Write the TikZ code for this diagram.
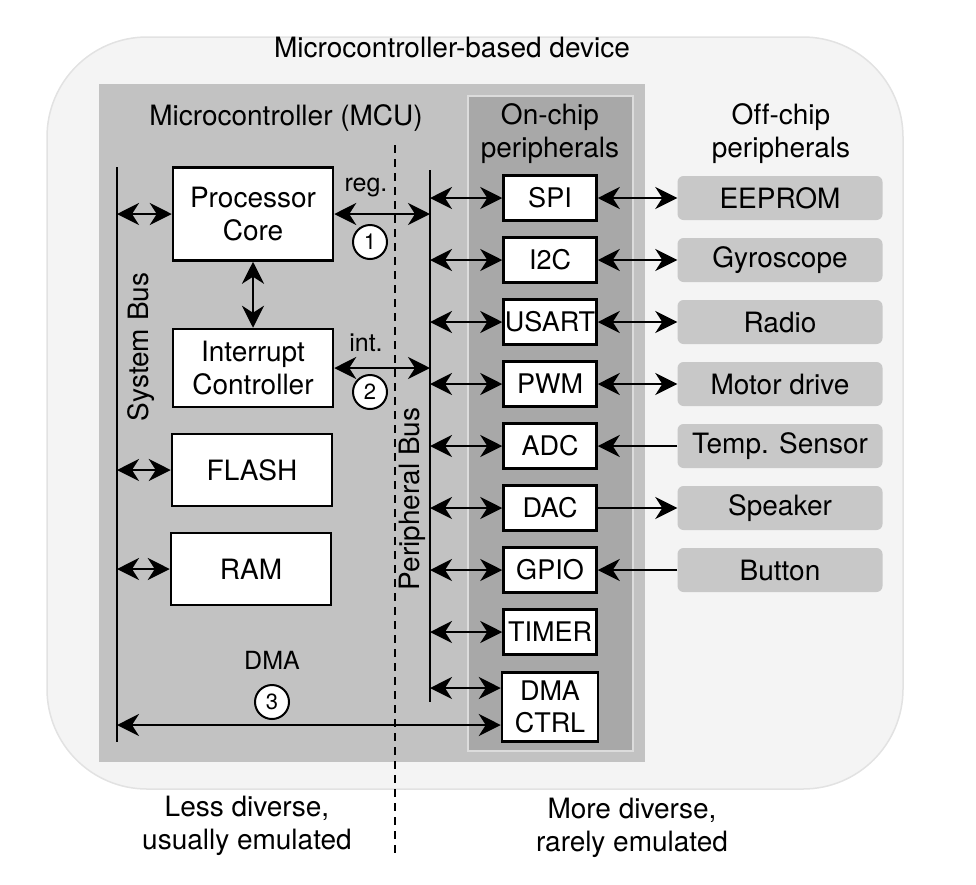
\documentclass[tikz,border=0pt]{standalone}
\usepackage{fontspec}
\setmainfont{TeX Gyre Heros}[Ligatures=CommonOff]
\usepackage{tikz}
\usetikzlibrary{arrows.meta}
\usetikzlibrary{positioning}
\definecolor{devicebg}{HTML}{F4F4F4}
\definecolor{deviceline}{HTML}{E2E2E2}
\definecolor{mcugray}{HTML}{C2C2C2}
\definecolor{onchipgray}{HTML}{A8A8A8}
\definecolor{onchipline}{HTML}{DCDCDC}
\definecolor{offchipgray}{HTML}{C8C8C8}
\tikzstyle{link} = [draw, line width=2.3pt]
\tikzstyle{every block} = [draw, line width=2.5pt, fill=white, align=center, font=\fontsize{28}{33}\selectfont]
\tikzstyle{unit} = [rectangle, minimum width=160pt, every block]
\tikzstyle{periph} = [rectangle, minimum width=93pt, minimum height=45pt, inner sep=0pt, every block, font=\fontsize{27}{32}\selectfont]
\tikzstyle{offchip} = [rectangle, rounded corners=6pt, fill=offchipgray, minimum width=205pt, minimum height=44pt, font=\fontsize{28}{33}\selectfont]
\tikzstyle{badge} = [circle, draw, line width=2pt, fill=white, minimum size=34pt, inner sep=0pt, font=\fontsize{22}{22}\selectfont]
\tikzstyle{heading} = [align=center, font=\fontsize{28}{33}\selectfont]
\tikzstyle{tag} = [font=\fontsize{25}{25}\selectfont]

\begin{document}
\begin{tikzpicture} [x=1pt, y=-1pt, node distance=62pt, >={Stealth[length=22pt,width=22pt,inset=7pt]}]

\useasboundingbox (0,0) rectangle (976,884);

% Device, MCU and on-chip areas

\draw[fill=devicebg, draw=deviceline, line width=1.5pt, rounded corners=100pt] (47,37) rectangle (903,789);
\fill[mcugray] (99,84) rectangle (645,762);
\draw[fill=onchipgray, draw=onchipline, line width=2.5pt] (468,96) rectangle (633,751);

\coordinate (divtop) at (395,145);
\coordinate (divbot) at (395,853);
\draw[line width=2pt, dash pattern=on 8pt off 6pt] (divtop) -- (divbot);

\node[heading] (device) at (452,48) {Microcontroller-based device};
\node[heading] (mcu) at (286,118) {Microcontroller (MCU)};
\node[heading] (onchip) at (550,134) {On-chip\\peripherals};
\node[heading] (offchip) at (781,134) {Off-chip\\peripherals};

% Core side

\node[unit, minimum height=93pt] (core) at (253,214) {Processor\\Core};
\node[unit, minimum height=78pt] (intc) at (253,368) {Interrupt\\Controller};
\node[unit, minimum height=72pt] (flash) at (252,470) {FLASH};
\node[unit, minimum height=72pt] (ram) at (251,569) {RAM};

\coordinate (sysbustop) at (117,167);
\coordinate (sysbusbot) at (117,742);
\coordinate (pbustop) at (430,170);
\coordinate (pbusbot) at (430,702);
\draw[link] (sysbustop) -- (sysbusbot);
\draw[link] (pbustop) -- (pbusbot);

\node[heading, rotate=90] (sysbus) at (141,347) {System Bus};
\node[heading, rotate=90] (pbus) at (412,499) {Peripheral Bus};

\draw[link, <->] (sysbustop |- core.west) -- (core.west);
\draw[link, <->] (sysbustop |- flash.west) -- (flash.west);
\draw[link, <->] (sysbustop |- ram.west) -- (ram.west);
\draw[link, <->] (core.south) -- (intc.north);
\draw[link, <->] (core.east) -- (pbustop |- core.east);
\draw[link, <->] (intc.east) -- (pbustop |- intc.east);

\node[tag] (reg) at (366,187) {reg.};
\node[badge] (one) at (370,242) {1};
\node[tag] (int) at (366,343) {int.};
\node[badge] (two) at (370,392) {2};
\node[tag] (dma) at (272,660) {DMA};
\node[badge] (three) at (272,702) {3};

% On-chip peripherals

\node[periph] (spi) at (550,198) {SPI};
\node[periph] (i2c) [below of=spi] {I2C};
\node[periph] (usart) [below of=i2c] {USART};
\node[periph] (pwm) [below of=usart] {PWM};
\node[periph] (adc) [below of=pwm] {ADC};
\node[periph] (dac) [below of=adc] {DAC};
\node[periph] (gpio) [below of=dac] {GPIO};
\node[periph] (timer) [below of=gpio] {TIMER};
\node[periph, minimum width=96pt, minimum height=69pt] (dmactrl) [below of=timer, yshift=-13pt] {DMA\\CTRL};

\foreach \p in {spi,i2c,usart,pwm,adc,dac,gpio,timer}
  \draw[link, <->] (pbustop |- \p.west) -- (\p.west);

\coordinate (dmaport) at ([yshift=19pt]dmactrl.west);
\coordinate (dmain) at ([yshift=-18pt]dmactrl.west);
\draw[link, <->] (pbustop |- dmaport) -- (dmaport);
\draw[link, <->] (sysbustop |- dmain) -- (dmain);

% Off-chip peripherals

\node[offchip] (eeprom) [right of=spi, xshift=168pt] {EEPROM} edge[link, <->] (spi);
\node[offchip] (gyro) [right of=i2c, xshift=168pt] {Gyroscope} edge[link, <->] (i2c);
\node[offchip] (radio) [right of=usart, xshift=168pt] {Radio} edge[link, <->] (usart);
\node[offchip] (motor) [right of=pwm, xshift=168pt] {Motor drive} edge[link, <->] (pwm);
\node[offchip] (temp) [right of=adc, xshift=168pt] {Temp. Sensor} edge[link, ->] (adc);
\node[offchip] (speaker) [right of=dac, xshift=168pt] {Speaker} edge[link, <-] (dac);
\node[offchip] (button) [right of=gpio, xshift=168pt] {Button} edge[link, ->] (gpio);

% Emulation split

\node[heading] (less) at (247,826) {Less diverse,\\usually emulated};
\node[heading] (more) at (632,828) {More diverse,\\rarely emulated};

\end{tikzpicture}
\end{document}
